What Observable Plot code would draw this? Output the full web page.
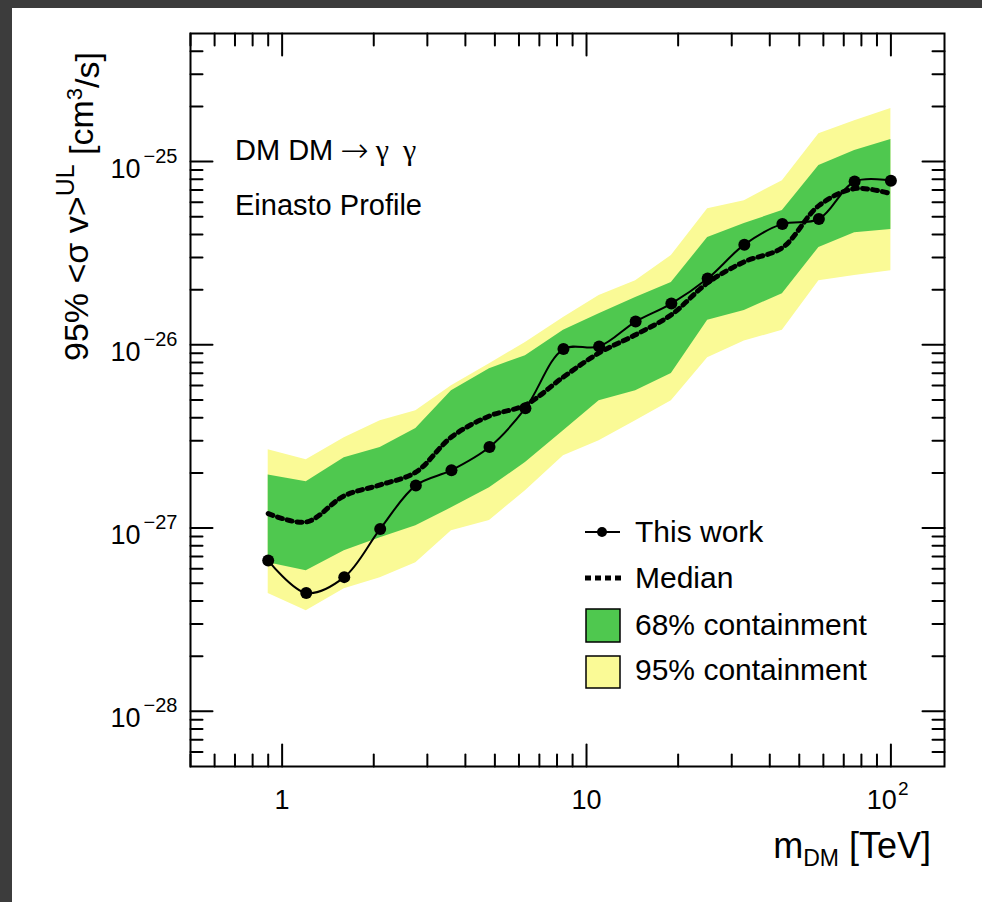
<!DOCTYPE html>
<html><head><meta charset="utf-8">
<script src="https://cdn.jsdelivr.net/npm/d3@7"></script>
<script src="https://cdn.jsdelivr.net/npm/@observablehq/plot@0.6"></script>
<style>
html,body{margin:0;padding:0;overflow:hidden;background:#3c3c3c;width:982px;height:902px;}
#panel{position:absolute;left:12px;top:8px;width:970px;height:894px;background:#fff;}
#chart{position:absolute;left:0;top:0;}
</style></head><body>
<div id="panel"></div><div id="chart"></div>
<script>
// ---- data ----
const mass     = [0.9, 1.2, 1.6, 2.1, 2.75, 3.6, 4.8, 6.3, 8.4, 11, 14.5, 19, 25, 33, 44, 58, 76, 100];
const thisWork = [6.65e-28, 4.43e-28, 5.40e-28, 9.9e-28, 1.71e-27, 2.07e-27, 2.77e-27, 4.51e-27, 9.48e-27, 9.79e-27, 1.34e-26, 1.68e-26, 2.30e-26, 3.52e-26, 4.57e-26, 4.86e-26, 7.78e-26, 7.87e-26];
const median   = [1.20e-27, 1.08e-27, 1.50e-27, 1.72e-27, 2.02e-27, 3.14e-27, 4.09e-27, 4.70e-27, 6.68e-27, 9.04e-27, 1.135e-26, 1.46e-26, 2.18e-26, 2.84e-26, 3.39e-26, 5.75e-26, 7.12e-26, 6.68e-26];
const lo68     = [6.47e-28, 5.85e-28, 7.53e-28, 8.87e-28, 1.03e-27, 1.29e-27, 1.66e-27, 2.28e-27, 3.40e-27, 4.95e-27, 5.62e-27, 6.97e-27, 1.36e-26, 1.54e-26, 1.90e-26, 3.40e-26, 4.09e-26, 4.26e-26];
const hi68     = [1.95e-27, 1.79e-27, 2.42e-27, 2.75e-27, 3.49e-27, 5.62e-27, 7.41e-27, 8.73e-27, 1.20e-26, 1.48e-26, 1.81e-26, 2.19e-26, 3.85e-26, 4.59e-26, 5.41e-26, 9.51e-26, 1.15e-25, 1.32e-25];
const lo95     = [4.39e-28, 3.54e-28, 4.67e-28, 5.36e-28, 6.47e-28, 9.68e-28, 1.10e-27, 1.60e-27, 2.48e-27, 3.00e-27, 3.85e-27, 4.95e-27, 8.51e-27, 1.05e-26, 1.20e-26, 2.24e-26, 2.39e-26, 2.54e-26];
const hi95     = [2.68e-27, 2.36e-27, 3.11e-27, 3.85e-27, 4.37e-27, 5.98e-27, 7.89e-27, 1.03e-26, 1.41e-26, 1.86e-26, 2.24e-26, 3.07e-26, 5.53e-26, 6.12e-26, 7.87e-26, 1.42e-25, 1.67e-25, 1.95e-25];

// ---- ticks ----
const xMajor = [1, 10, 100];
const xMinor = [0.5, 0.6, 0.7, 0.8, 0.9, 2, 3, 4, 5, 6, 7, 8, 9, 20, 30, 40, 50, 60, 70, 80, 90];
const xLabelTicks = [1, 10];
const xLabels = ["1", "10"];
const xExpTicks = [100];
const xExpBase = ["10"];
const xExpPow = ["2"];
const yMajor = [1e-28, 1e-27, 1e-26, 1e-25];
const yMinor = [6e-29, 7e-29, 8e-29, 9e-29,
  2e-28, 3e-28, 4e-28, 5e-28, 6e-28, 7e-28, 8e-28, 9e-28,
  2e-27, 3e-27, 4e-27, 5e-27, 6e-27, 7e-27, 8e-27, 9e-27,
  2e-26, 3e-26, 4e-26, 5e-26, 6e-26, 7e-26, 8e-26, 9e-26,
  2e-25, 3e-25, 4e-25];
const yLabelBase = ["10", "10", "10", "10"];
const yLabelPow = ["\u221228", "\u221227", "\u221226", "\u221225"];

const table = mass.map((m, i) => ({m, tw: thisWork[i], med: median[i], lo68: lo68[i], hi68: hi68[i], lo95: lo95[i], hi95: hi95[i]}));

const GREEN = "#4fc84f", YELLOW = "#fafa96";
const FONT = "'Liberation Sans', Arial, Helvetica, sans-serif";

const tickShape = {draw(ctx, l) { ctx.moveTo(0, 0); ctx.lineTo(0, -l); }};
const tk = (data, opts) => Plot.vector(data, {anchor: "start", shape: tickShape, stroke: "#000", strokeWidth: 2, ...opts});

const svg = Plot.plot({
  width: 982, height: 902,
  marginLeft: 190, marginRight: 38, marginTop: 33, marginBottom: 136,
  style: {background: "transparent", fontFamily: FONT, overflow: "visible", color: "#000"},
  x: {type: "log", domain: [0.5, 150], axis: null},
  y: {type: "log", domain: [5e-29, 5e-25], axis: null},
  marks: [
    Plot.areaY(table, {x: "m", y1: "lo95", y2: "hi95", fill: YELLOW, curve: "linear"}),
    Plot.areaY(table, {x: "m", y1: "lo68", y2: "hi68", fill: GREEN, curve: "linear"}),
    Plot.line(table, {x: "m", y: "med", curve: "catmull-rom", stroke: "#000", strokeWidth: 5, strokeDasharray: "5,5"}),
    Plot.line(table, {x: "m", y: "tw", curve: "catmull-rom", stroke: "#000", strokeWidth: 2}),
    Plot.dot(table, {x: "m", y: "tw", r: 6, fill: "#000", stroke: "none"}),
    // ticks (inward)
    tk(xMajor, {x: d => d, frameAnchor: "bottom", length: 22, rotate: 0}),
    tk(xMinor, {x: d => d, frameAnchor: "bottom", length: 12, rotate: 0}),
    tk(xMajor, {x: d => d, frameAnchor: "top", length: 22, rotate: 180}),
    tk(xMinor, {x: d => d, frameAnchor: "top", length: 12, rotate: 180}),
    tk(yMajor, {y: d => d, frameAnchor: "left", length: 22, rotate: 90}),
    tk(yMinor, {y: d => d, frameAnchor: "left", length: 12, rotate: 90}),
    tk(yMajor, {y: d => d, frameAnchor: "right", length: 22, rotate: -90}),
    tk(yMinor, {y: d => d, frameAnchor: "right", length: 12, rotate: -90}),
    Plot.frame({stroke: "#000", strokeWidth: 2}),
    // tick labels
    Plot.text(xLabelTicks, {x: d => d, frameAnchor: "bottom", text: (d, i) => xLabels[i], lineAnchor: "bottom", dy: 42, fontSize: 27, fill: "#000"}),
    Plot.text(xExpTicks, {x: d => d, frameAnchor: "bottom", text: (d, i) => xExpBase[i], textAnchor: "end", lineAnchor: "bottom", dx: 6, dy: 42, fontSize: 27, fill: "#000"}),
    Plot.text(xExpTicks, {x: d => d, frameAnchor: "bottom", text: (d, i) => xExpPow[i], textAnchor: "start", lineAnchor: "bottom", dx: 7, dy: 28, fontSize: 19, fill: "#000"}),
    Plot.text(yMajor, {y: d => d, frameAnchor: "left", text: (d, i) => yLabelBase[i], textAnchor: "end", lineAnchor: "bottom", dx: -50, dy: 16, fontSize: 27, fill: "#000"}),
    Plot.text(yMajor, {y: d => d, frameAnchor: "left", text: (d, i) => yLabelPow[i], textAnchor: "end", lineAnchor: "bottom", dx: -13, dy: 1, fontSize: 20, fill: "#000"})
  ]
});
document.getElementById("chart").appendChild(svg);

// ---- titles, annotations, legend ----
const g = d3.select(svg).append("g").attr("font-family", FONT).attr("fill", "#000").attr("text-anchor", "start");

// y title
const yt = g.append("text").attr("transform", "translate(88,52) rotate(-90)").attr("text-anchor", "end").attr("font-size", 34);
yt.append("tspan").text("95% <\u03c3 v>");
yt.append("tspan").attr("dy", "-0.55em").attr("font-size", 25).text("UL");
yt.append("tspan").attr("dy", "0.55em").text(" [cm");
yt.append("tspan").attr("dy", "-0.5em").attr("font-size", 22).text("3");
yt.append("tspan").attr("dy", "0.5em").text("/s]");

// x title
const xt = g.append("text").attr("x", 931).attr("y", 858).attr("text-anchor", "end").attr("font-size", 36);
xt.append("tspan").text("m");
xt.append("tspan").attr("dy", 8).attr("font-size", 23).text("DM");
xt.append("tspan").attr("dy", -8).text(" [TeV]");

// process / profile
const t1 = g.append("text").attr("x", 235).attr("y", 160).attr("font-size", 29).attr("text-anchor", "start");
t1.append("tspan").text("DM DM");
t1.append("tspan").attr("dx", 7).attr("font-family", "'DejaVu Sans', sans-serif").attr("font-weight", 200).attr("font-size", 34).attr("dy", 2).text("\u2192");
t1.append("tspan").attr("dx", 7).attr("dy", -2).attr("font-family", "'Liberation Serif', 'DejaVu Serif', serif").attr("font-size", 30).text("\u03b3");
t1.append("tspan").attr("dx", 14).attr("font-family", "'Liberation Serif', 'DejaVu Serif', serif").attr("font-size", 30).text("\u03b3");
g.append("text").attr("x", 235).attr("y", 215).attr("font-size", 29).attr("text-anchor", "start").text("Einasto Profile");

// legend
const lg = g.append("g").attr("text-anchor", "start");
lg.append("line").attr("x1", 585).attr("x2", 620).attr("y1", 532).attr("y2", 532).attr("stroke", "#000").attr("stroke-width", 2);
lg.append("circle").attr("cx", 602).attr("cy", 532).attr("r", 5).attr("fill", "#000");
lg.append("text").attr("x", 635).attr("y", 542).attr("font-size", 30).text("This work");
lg.append("line").attr("x1", 585).attr("x2", 621).attr("y1", 578).attr("y2", 578).attr("stroke", "#000").attr("stroke-width", 5).attr("stroke-dasharray", "6,4");
lg.append("text").attr("x", 635).attr("y", 588).attr("font-size", 30).text("Median");
lg.append("rect").attr("x", 586).attr("y", 609).attr("width", 34).attr("height", 33).attr("fill", GREEN).attr("stroke", "#000").attr("stroke-width", 1.5);
lg.append("text").attr("x", 635).attr("y", 635).attr("font-size", 30).text("68% containment");
lg.append("rect").attr("x", 586).attr("y", 656).attr("width", 34).attr("height", 32).attr("fill", YELLOW).attr("stroke", "#000").attr("stroke-width", 1.5);
lg.append("text").attr("x", 635).attr("y", 680).attr("font-size", 30).text("95% containment");
</script>
</body></html>
